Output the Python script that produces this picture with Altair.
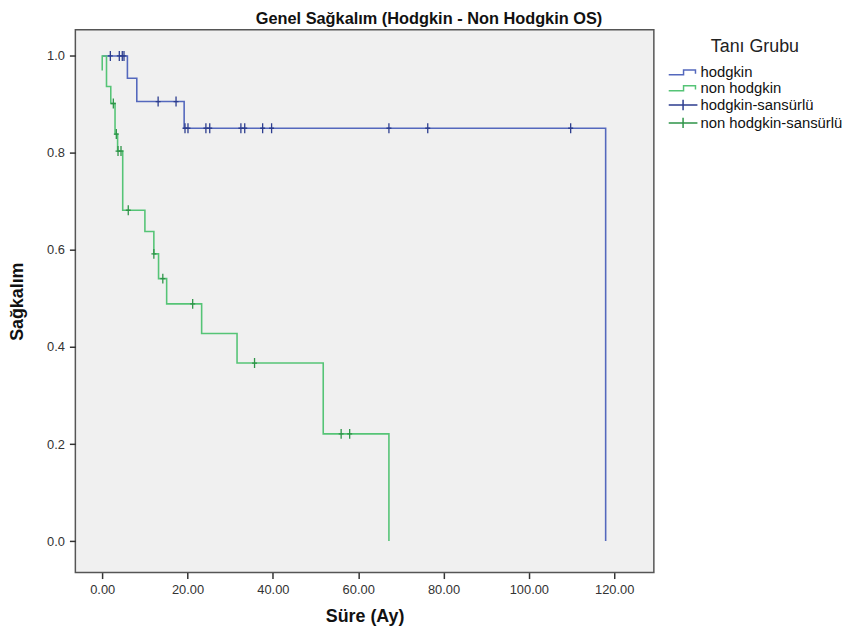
import altair as alt
import pandas as pd

# ---- data ----
groups = ["hodgkin", "non hodgkin", "hodgkin-sansürlü", "non hodgkin-sansürlü"]

hod_start = 1.0
hod_times = [5.9, 8.1, 19.2, 118.0]
hod_surv = [0.954, 0.906, 0.851, 0.0]
hod_cens = [1.9, 4.0, 4.7, 5.1, 13.1, 17.3, 19.4, 20.1, 24.3, 25.2,
            32.5, 33.4, 37.6, 39.7, 67.2, 76.3, 109.8]

non_start = 0.97
non_times = [0.0, 1.0, 2.0, 3.0, 3.6, 4.8, 10.0, 12.1, 13.2, 15.1, 23.3, 31.6, 51.8, 67.2]
non_surv = [1.0, 0.937, 0.902, 0.839, 0.804, 0.682, 0.638, 0.592, 0.541, 0.489,
            0.428, 0.367, 0.221, 0.0]
non_cens = [2.6, 3.3, 3.7, 4.4, 6.1, 12.1, 14.2, 21.2, 35.7, 56.0, 58.0]

x_ticks = [0, 20, 40, 60, 80, 100, 120]
y_ticks = [0.0, 0.2, 0.4, 0.6, 0.8, 1.0]

colors = ["#5468bd", "#55c476", "#2c3d8f", "#2e9448"]
# legend glyphs (unit = half the legend symbol side)
step_glyph = "M-1,0.35H1.14V-0.35H2.86V0.2"
plus_glyph = "M-1,0H3.14M1.07,-0.75V0.75"
tick_glyph = "M0,-1V1M-0.5,0H0.5"


def step_path(name, start, times, surv):
    rows = []
    cur = start
    rows.append((name, 0.0, cur))
    for t, s in zip(times, surv):
        rows.append((name, t, cur))
        rows.append((name, t, s))
        cur = s
    return rows


def surv_at(t, start, times, surv):
    cur = start
    for tt, s in zip(times, surv):
        if tt <= t:
            cur = s
    return cur


rows = step_path("hodgkin", hod_start, hod_times, hod_surv) + \
       step_path("non hodgkin", non_start, non_times, non_surv)
lines = pd.DataFrame(rows, columns=["group", "t", "s"])
lines["order"] = range(len(lines))

cens = pd.DataFrame(
    [("hodgkin-sansürlü", t, surv_at(t, hod_start, hod_times, hod_surv)) for t in hod_cens] +
    [("non hodgkin-sansürlü", t, surv_at(t, non_start, non_times, non_surv)) for t in non_cens],
    columns=["group", "t", "s"])

FONT = "Liberation Sans"

legend = alt.Legend(title="Tanı Grubu", orient="none", legendX=598, legendY=8,
                    titleAnchor="middle", titleAlign="center",
                    titleFontSize=18, titleFontWeight="normal", titleFont=FONT,
                    titleColor="#222", titlePadding=9,
                    labelFont=FONT, labelFontSize=15, labelColor="#111",
                    symbolSize=196, symbolStrokeWidth=1.5, rowPadding=0,
                    symbolFillColor="transparent",
                    labelOffset=17, labelLimit=300)

cscale = alt.Scale(domain=groups, range=colors)
color = alt.Color("group:N", scale=cscale, legend=legend)
x = alt.X("t:Q", title="Süre (Ay)",
          scale=alt.Scale(domain=[-6.3, 129.3], nice=False, zero=False),
          axis=alt.Axis(values=x_ticks, format=".2f"))
y = alt.Y("s:Q", title="Sağkalım",
          scale=alt.Scale(domain=[-0.065, 1.054], nice=False, zero=False),
          axis=alt.Axis(values=y_ticks, format=".1f"))

line_layer = alt.Chart(lines).mark_line(strokeWidth=1.6, clip=True).encode(
    x=x, y=y, color=color, order="order:Q")

point_layer = alt.Chart(cens).mark_point(filled=False, size=100, strokeWidth=1.3,
                                          opacity=1, shape=tick_glyph).encode(
    x=x, y=y, color=color)

legend_layer = alt.Chart(cens).mark_point(filled=False, size=0, strokeWidth=1.5).encode(
    x=x, y=y, color=color,
    shape=alt.Shape("group:N", scale=alt.Scale(domain=groups,
                    range=[step_glyph, step_glyph, plus_glyph, plus_glyph]), legend=legend))

chart = alt.layer(line_layer, point_layer, legend_layer).properties(
    width=584, height=548,
    autosize=alt.AutoSizeParams(type="none"),
    padding={"left": 68, "top": 19, "right": 197, "bottom": 60},
    title=alt.TitleParams("Genel Sağkalım (Hodgkin - Non Hodgkin OS)", font=FONT,
                          fontSize=16.5, fontWeight="bold", color="#111",
                          anchor="middle", dx=65, offset=2),
    background="white",
).configure_view(
    fill="#f0f0f0", stroke="#555555", strokeWidth=1.5
).configure_axis(
    grid=False, domain=False, tickColor="#333", tickSize=6, tickWidth=1.5,
    labelFont=FONT, labelFontSize=13, labelColor="#333", labelPadding=5,
    titleFont=FONT, titleFontSize=18, titleFontWeight="bold", titleColor="#111"
).configure_axisX(titlePadding=11).configure_axisY(titlePadding=20)

chart.save("out.html", embed_options={"renderer": "svg", "actions": False})
